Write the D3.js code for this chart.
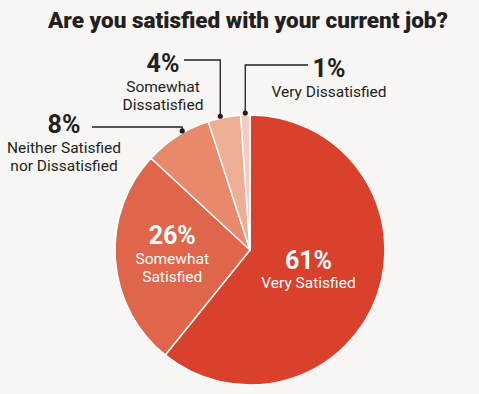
<!DOCTYPE html>
<html>
<head>
<meta charset="utf-8">
<script src="https://cdn.jsdelivr.net/npm/d3@7"></script>
<style>
  html, body { margin: 0; padding: 0; background: #f7f6f4; }
  svg { display: block; font-family: Roboto, "DejaVu Sans", sans-serif; }
</style>
</head>
<body>
<svg id="chart" width="479" height="394"></svg>
<script>
// ---- data ----
const title = "Are you satisfied with your current job?";
const categories = ["Very Satisfied", "Somewhat Satisfied", "Neither Satisfied nor Dissatisfied", "Somewhat Dissatisfied", "Very Dissatisfied"];
const values = [60.8, 26.1, 8.1, 3.9, 1.1];
const labelLines = [["Very Satisfied"], ["Somewhat", "Satisfied"], ["Neither Satisfied", "nor Dissatisfied"], ["Somewhat", "Dissatisfied"], ["Very Dissatisfied"]];
const colors = ["#d9412c", "#df664a", "#e8896c", "#eeae95", "#f4cbbd"];

// ---- layout ----
const W = 479, H = 394;
const cx = 250, cy = 250, R = 135;
// inside labels: radius along slice mid-angle
const inside = { 0: { r: 62 }, 1: { r: 78 } };
// outside callouts: fraction along slice, elbow y, line end x, label centre x, label baseline
const callouts = {
  2: { at: 0.6, elbowY: 127, lineEnd: 92, lx: 64, ly: 133 },
  3: { at: 0.39, elbowY: 60, lineEnd: 184, lx: 163, ly: 72 },
  4: { at: 0.5, elbowY: 65, lineEnd: 308, lx: 329, ly: 77 }
};

const svg = d3.select("#chart");
svg.append("rect").attr("width", W).attr("height", H).attr("fill", "#f7f6f4");

svg.append("text")
  .attr("x", 248).attr("y", 28)
  .attr("text-anchor", "middle")
  .attr("font-size", 21.5).attr("font-weight", 900)
  .attr("fill", "#231f20")
  .attr("textLength", 400).attr("lengthAdjust", "spacingAndGlyphs")
  .text(title);

const pie = d3.pie().sort(null).value(d => d.value).startAngle(0).endAngle(2 * Math.PI);
const data = categories.map((c, i) => ({ cat: c, value: values[i], lines: labelLines[i], color: colors[i], idx: i }));
const arcs = pie(data);
const arc = d3.arc().innerRadius(0).outerRadius(R);

const g = svg.append("g").attr("transform", `translate(${cx},${cy})`);
g.selectAll("path.slice").data(arcs).join("path")
  .attr("class", "slice")
  .attr("d", arc)
  .attr("fill", d => d.data.color)
  .attr("stroke", "#ffffff")
  .attr("stroke-width", 1.5)
  .attr("stroke-linejoin", "round");

const pct = v => Math.round(v) + "%";
const PCT_SIZE = 25, LINE_SIZE = 15.5;

// inside labels
arcs.forEach(a => {
  const opt = inside[a.index];
  if (!opt) return;
  const c = d3.arc().innerRadius(opt.r).outerRadius(opt.r).centroid(a);
  const n = a.data.lines.length;
  const blockH = 20 + (n - 1) * 19;
  const top = c[1] - blockH / 2 + 8;
  const t = g.append("g").attr("fill", "#ffffff").attr("text-anchor", "middle");
  t.append("text").attr("x", c[0]).attr("y", top).attr("font-size", PCT_SIZE).attr("font-weight", 700).text(pct(a.data.value));
  a.data.lines.forEach((l, k) => {
    t.append("text").attr("x", c[0]).attr("y", top + 19.5 + k * 18.5).attr("font-size", LINE_SIZE).text(l);
  });
});

// outside callouts
arcs.forEach(a => {
  const opt = callouts[a.index];
  if (!opt) return;
  const ang = a.startAngle + (a.endAngle - a.startAngle) * opt.at;
  const dx = cx + (R + 2) * Math.sin(ang);
  const dy = cy - (R + 2) * Math.cos(ang);
  svg.append("path")
    .attr("d", d3.line()([[dx, dy], [dx, opt.elbowY], [opt.lineEnd, opt.elbowY]]))
    .attr("fill", "none").attr("stroke", "#231f20").attr("stroke-width", 1.3);
  svg.append("circle").attr("cx", dx).attr("cy", dy).attr("r", 2.6).attr("fill", "#231f20");
  const t = svg.append("g").attr("fill", "#231f20").attr("text-anchor", "middle");
  t.append("text").attr("x", opt.lx).attr("y", opt.ly).attr("font-size", PCT_SIZE).attr("font-weight", 700).text(pct(a.data.value));
  a.data.lines.forEach((l, k) => {
    t.append("text").attr("x", opt.lx).attr("y", opt.ly + 19.5 + k * 18.5).attr("font-size", LINE_SIZE).text(l);
  });
});
</script>
</body>
</html>
